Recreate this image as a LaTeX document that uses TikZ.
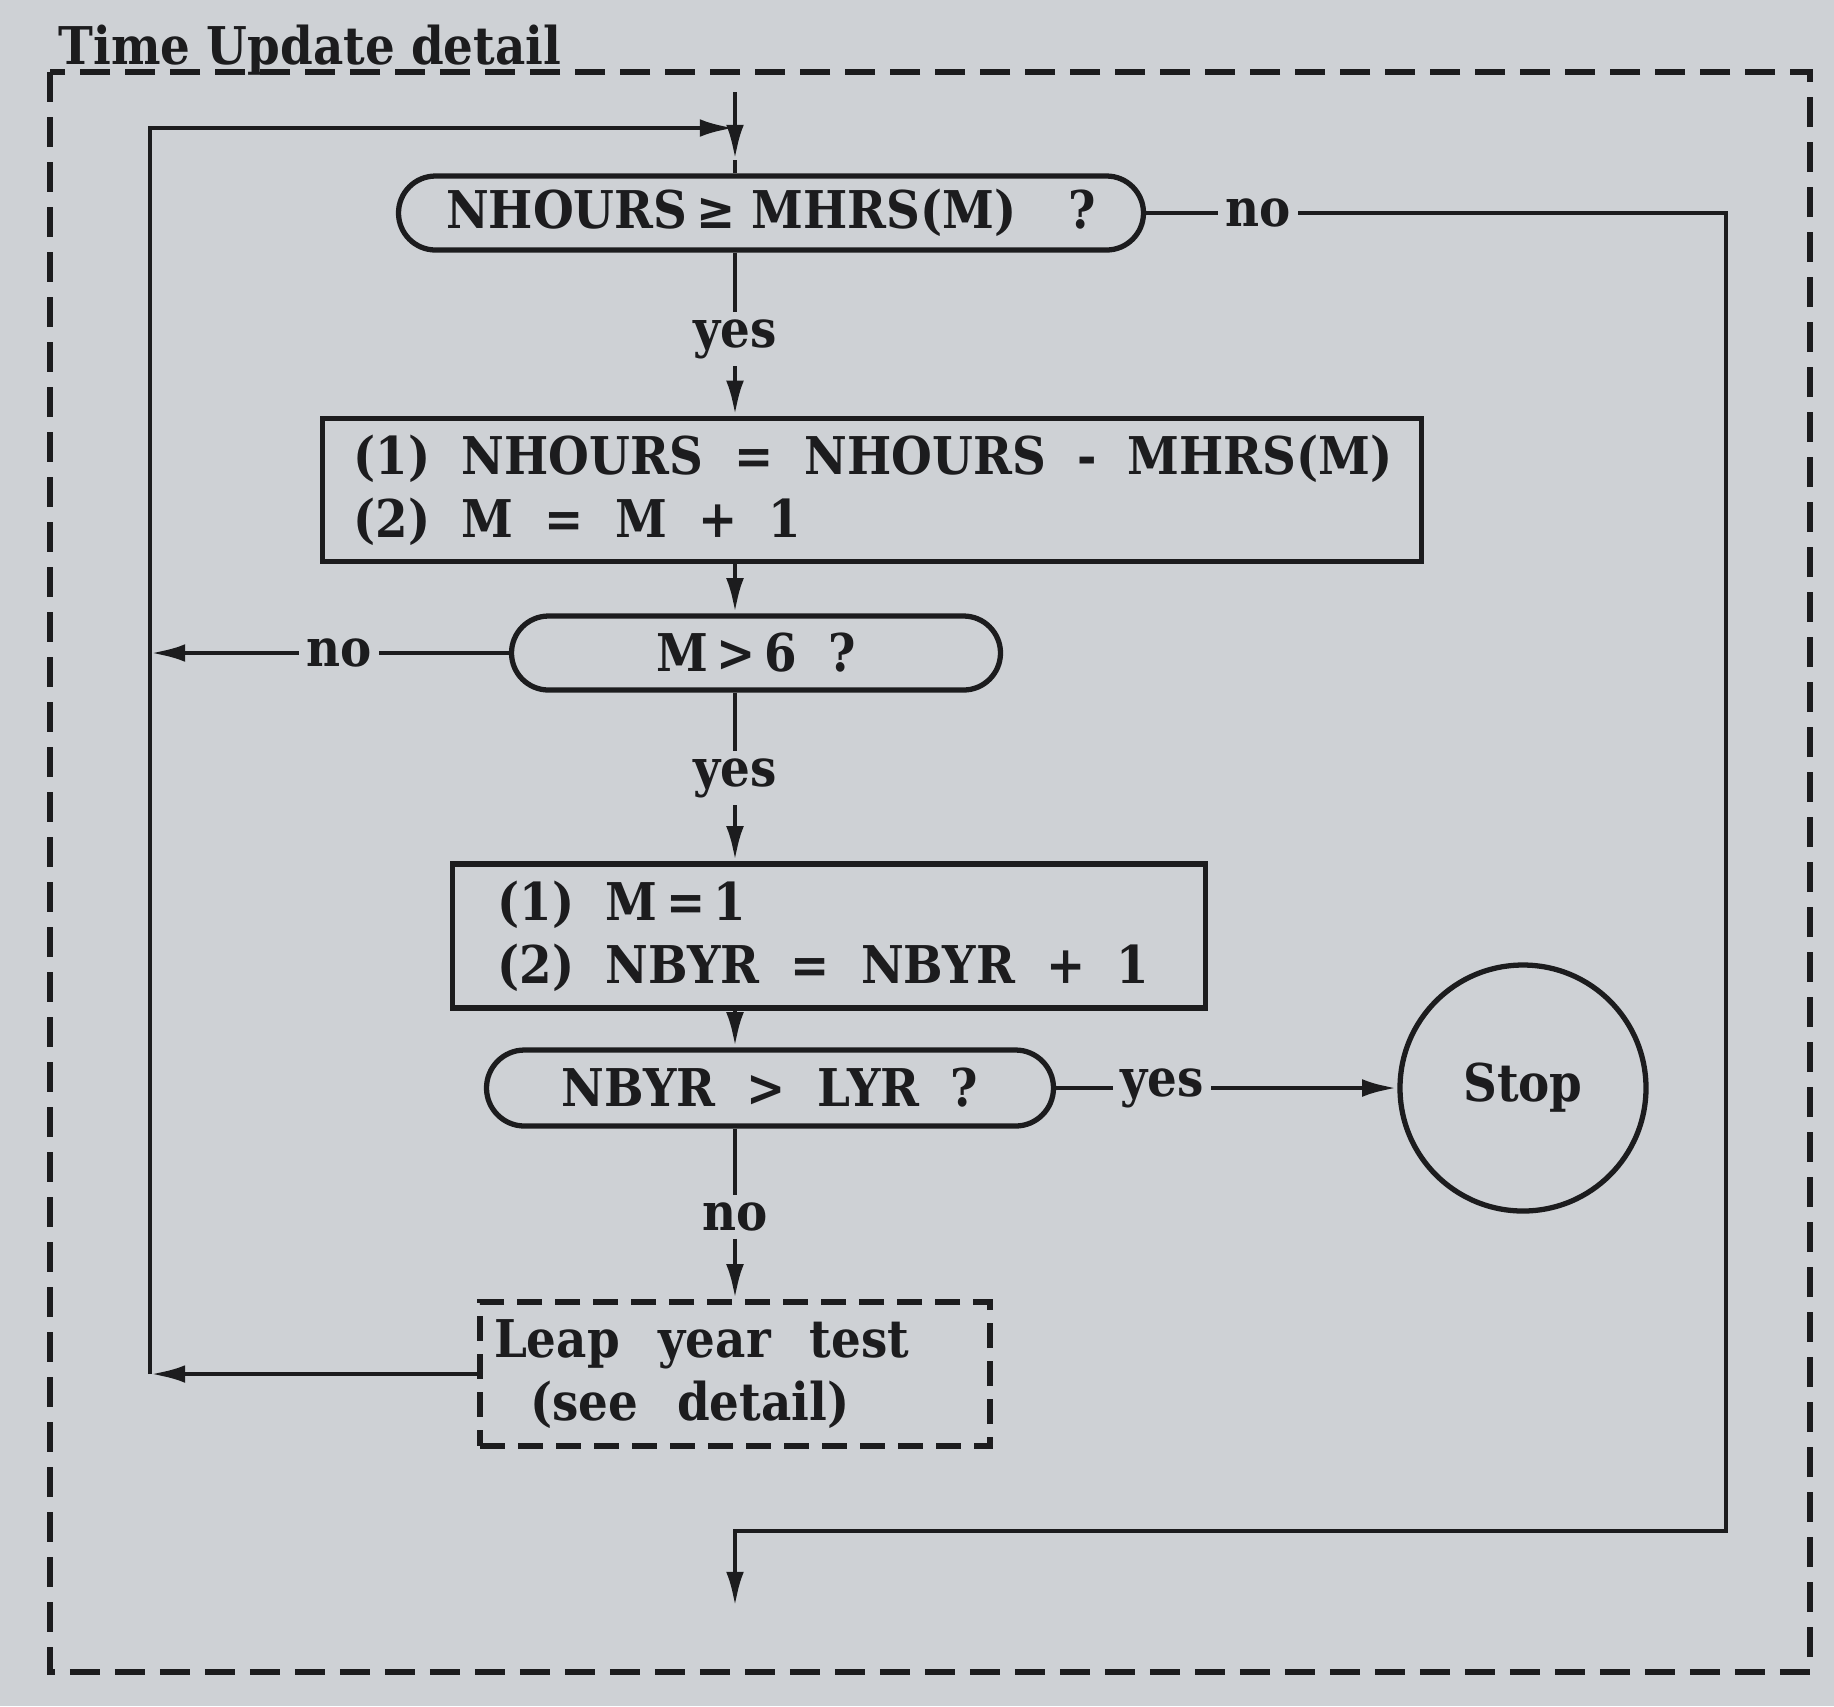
\documentclass[tikz,border=0pt]{standalone}
\usepackage{fontspec}
\setmainfont{DejaVu Serif}[FakeStretch=0.9]
\usetikzlibrary{arrows.meta, shapes.misc}

\definecolor{paper}{RGB}{206,209,213}
\definecolor{ink}{RGB}{28,28,30}
\newcommand{\flowfont}{\bfseries\fontsize{14.8}{17.9}\selectfont}
\newcommand{\gap}{\hspace{0.6em}}

\begin{document}
\begin{tikzpicture}[x=0.1mm, y=-0.1mm,
    every node/.style={font=\flowfont, text=ink},
    test/.style={draw=ink, line width=1.5pt, rounded rectangle, minimum height=7.4mm, inner sep=0pt},
    stepbox/.style={draw=ink, line width=1.5pt, rectangle, align=left, inner ysep=0pt},
    lbl/.style={inner sep=2pt},
    wire/.style={draw=ink, line width=1.4pt},
    arr/.style={wire, -{Latex[length=10pt,width=5pt]}},
    frame/.style={draw=ink, line width=1.6pt, dash pattern=on 3mm off 1.5mm}
]

% ---- paper and outer frame ----
\fill[paper] (0,0) rectangle (1834,1706);
\draw[frame] (50,72) rectangle (1810,1672);
\node[anchor=base west, inner sep=0pt] (title) at (58,64) {Time Update detail};

% ---- main column ----
\node[test, minimum width=74.5mm] (d_hours) at (771,213) {NHOURS\,≥\ MHRS(M)\quad ?};
\node[stepbox, text width=103.7mm, inner xsep=3.1mm, minimum height=14.3mm] (p_month) at (872,490)
    {\mbox{(1)\gap NHOURS\gap =\gap NHOURS\gap -\gap MHRS(M)}\\\mbox{(2)\gap M\gap =\gap M\gap +\gap 1}};
\node[test, minimum width=48.9mm] (d_month) at (756,653) {M\,>\,6\gap ?};
\node[stepbox, text width=66.3mm, inner xsep=4.5mm, minimum height=14.4mm] (p_year) at (829,936)
    {\mbox{(1)\gap M\,=\,1}\\\mbox{(2)\gap NBYR\gap =\gap NBYR\gap +\gap 1}};
\node[test, minimum width=56.7mm, minimum height=7.6mm] (d_year) at (770,1088) {NBYR\gap >\gap LYR\gap ?};
\node[circle, draw=ink, line width=1.5pt, minimum size=24.6mm] (n_stop) at (1523,1088) {Stop};
\node[stepbox, dash pattern=on 2.5mm off 1.3mm, text width=48.2mm, inner xsep=1.4mm, minimum height=14.4mm]
    (p_leap) at (735,1374) {Leap\hspace{0.75em}year\hspace{0.75em}test\\\hspace*{3.6mm}(see\hspace{0.75em}detail)};

% ---- branch labels ----
\node[lbl] (l_no1)  at (1258,213)  {no};
\node[lbl] (l_yes1) at (735,339)   {yes};
\node[lbl] (l_no2)  at (339,653)   {no};
\node[lbl] (l_yes2) at (735,778)   {yes};
\node[lbl] (l_yes3) at (1162,1088) {yes};
\node[lbl] (l_no3)  at (735,1217)  {no};

% ---- loop corners ----
\coordinate (c_in)   at (735,92);
\coordinate (c_tip)  at (735,160);
\coordinate (c_join) at (735,128);
\coordinate (c_tl)   at (150,128);
\coordinate (c_bl)   at (150,1374);
\coordinate (c_rt)   at (1726,213);
\coordinate (c_rb)   at (1726,1531);
\coordinate (c_xb)   at (735,1531);
\coordinate (c_out)  at (735,1607);

% ---- connectors ----
\draw[arr]  (c_in) -- (c_tip);
\draw[wire] (c_tip) -- (d_hours.north -| c_tip);
\draw[arr]  (c_bl) -- (c_tl) -- (c_join);

\draw[wire] (d_hours.south -| c_in) -- (l_yes1);
\draw[arr]  (l_yes1) -- (p_month.north -| c_in);
\draw[wire] (d_hours.east) -- (l_no1);
\draw[arr]  (l_no1) -- (c_rt) -- (c_rb) -- (c_xb) -- (c_out);

\draw[arr]  (p_month.south -| c_in) -- (d_month.north -| c_in);
\draw[wire] (d_month.west) -- (l_no2);
\draw[arr]  (l_no2) -- (l_no2 -| c_tl);
\draw[wire] (d_month.south -| c_in) -- (l_yes2);
\draw[arr]  (l_yes2) -- (p_year.north -| c_in);

\draw[arr]  (p_year.south -| c_in) -- (d_year.north -| c_in);
\draw[wire] (d_year.east) -- (l_yes3);
\draw[arr]  (l_yes3) -- (n_stop);
\draw[wire] (d_year.south -| c_in) -- (l_no3);
\draw[arr]  (l_no3) -- (p_leap.north -| c_in);
\draw[arr]  (p_leap.west) -- (c_bl);

\end{tikzpicture}
\end{document}
